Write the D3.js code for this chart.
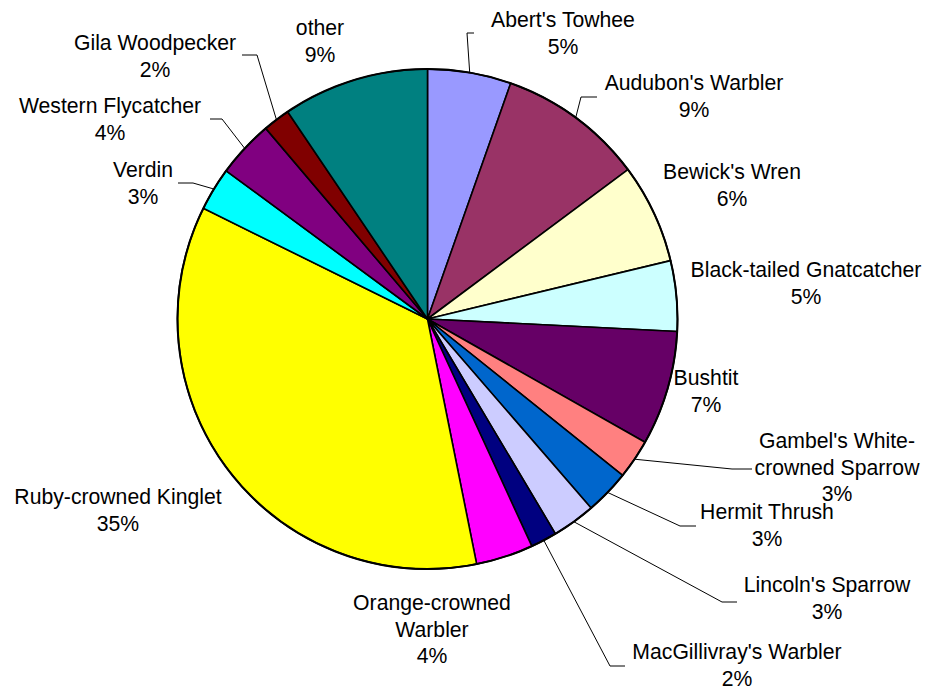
<!DOCTYPE html>
<html>
<head>
<meta charset="utf-8">
<script src="https://cdn.jsdelivr.net/npm/d3@7"></script>
<style>
  html, body { margin: 0; padding: 0; background: #fff; }
  svg { display: block; }
  text { font-family: Arial, "Liberation Sans", Helvetica, sans-serif; font-size: 21.2px; fill: #000; }
</style>
</head>
<body>
<svg id="chart" width="930" height="690"></svg>
<script>
// Species observed (clockwise from 12 o'clock)
const species = [
  "Abert's Towhee", "Audubon's Warbler", "Bewick's Wren", "Black-tailed Gnatcatcher",
  "Bushtit", "Gambel's White-crowned Sparrow", "Hermit Thrush", "Lincoln's Sparrow",
  "MacGillivray's Warbler", "Orange-crowned Warbler", "Ruby-crowned Kinglet",
  "Verdin", "Western Flycatcher", "Gila Woodpecker", "other"
];

// Share of observations, percent
const shares = [5.4, 9.4, 6.45, 4.55, 7.4, 2.55, 2.9, 2.8, 1.7, 3.7, 35.45, 2.8, 3.7, 1.75, 9.45];

// Slice fills
const fills = [
  "#9999FF", "#993366", "#FFFFCC", "#CCFFFF", "#660066", "#FF8080", "#0066CC",
  "#CCCCFF", "#000080", "#FF00FF", "#FFFF00", "#00FFFF", "#800080", "#800000", "#008080"
];

// Label text lines (the percentage line is appended automatically)
const labelLines = [
  ["Abert's Towhee"], ["Audubon's Warbler"], ["Bewick's Wren"], ["Black-tailed Gnatcatcher"],
  ["Bushtit"], ["Gambel's White-", "crowned Sparrow"], ["Hermit Thrush"], ["Lincoln's Sparrow"],
  ["MacGillivray's Warbler"], ["Orange-crowned", "Warbler"], ["Ruby-crowned Kinglet"],
  ["Verdin"], ["Western Flycatcher"], ["Gila Woodpecker"], ["other"]
];

// ---- layout ----
const cx = 427.5, cy = 319, radius = 250;
const lineH = 26.5;

// label block centres (x) and first baseline (y); leader: [textEdgeX, elbowX, y] or null
const labelLayout = [
  { x: 563, y: 27,  leader: [474, 467, 33] },
  { x: 694, y: 90,  leader: [597, 581, 97] },
  { x: 732, y: 179, leader: null },
  { x: 806, y: 277, leader: null },
  { x: 706, y: 385, leader: null },
  { x: 837, y: 448, leader: [752, 732, 469] },
  { x: 767, y: 519, leader: [696, 680, 526] },
  { x: 827, y: 592, leader: [737, 722, 602] },
  { x: 737, y: 659, leader: [625, 610, 666] },
  { x: 432, y: 610, leader: null },
  { x: 118, y: 504, leader: null },
  { x: 143, y: 177, leader: [178, 193, 183] },
  { x: 110, y: 113, leader: [210, 222, 119] },
  { x: 155, y: 50,  leader: [242, 257, 55] },
  { x: 320, y: 35,  leader: null }
];

const data = species.map((name, i) => ({ name, value: shares[i], fill: fills[i], lines: labelLines[i], layout: labelLayout[i] }));
const total = d3.sum(shares);
const pct = d3.format(".0%");

const svg = d3.select("#chart");
const g = svg.append("g").attr("transform", `translate(${cx},${cy})`);

const pie = d3.pie().value(d => d.value).sort(null).startAngle(0).endAngle(2 * Math.PI);
const arc = d3.arc().innerRadius(0).outerRadius(radius);
const arcs = pie(data);

// slices
g.selectAll("path.slice")
  .data(arcs)
  .join("path")
  .attr("class", "slice")
  .attr("d", arc)
  .attr("fill", d => d.data.fill)
  .attr("stroke", "#000")
  .attr("stroke-width", 1.6)
  .attr("stroke-linejoin", "round");

// outer rim
g.append("circle").attr("r", radius).attr("fill", "none").attr("stroke", "#000").attr("stroke-width", 2);

// leader lines: from the label elbow to the slice edge at its mid angle
const leaders = svg.append("g");
arcs.forEach(a => {
  const L = a.data.layout.leader;
  if (!L) return;
  const mid = (a.startAngle + a.endAngle) / 2;
  const ex = cx + radius * Math.sin(mid);
  const ey = cy - radius * Math.cos(mid);
  leaders.append("polyline")
    .attr("points", `${L[0]},${L[2]} ${L[1]},${L[2]} ${ex},${ey}`)
    .attr("fill", "none")
    .attr("stroke", "#000")
    .attr("stroke-width", 1);
});

// labels
const labels = svg.append("g");
arcs.forEach(a => {
  const lay = a.data.layout;
  const lines = a.data.lines.concat([pct(a.data.value / total)]);
  const t = labels.append("text").attr("text-anchor", "middle");
  lines.forEach((s, k) => {
    t.append("tspan").attr("x", lay.x).attr("y", lay.y + k * lineH).text(s);
  });
});
</script>
</body>
</html>
